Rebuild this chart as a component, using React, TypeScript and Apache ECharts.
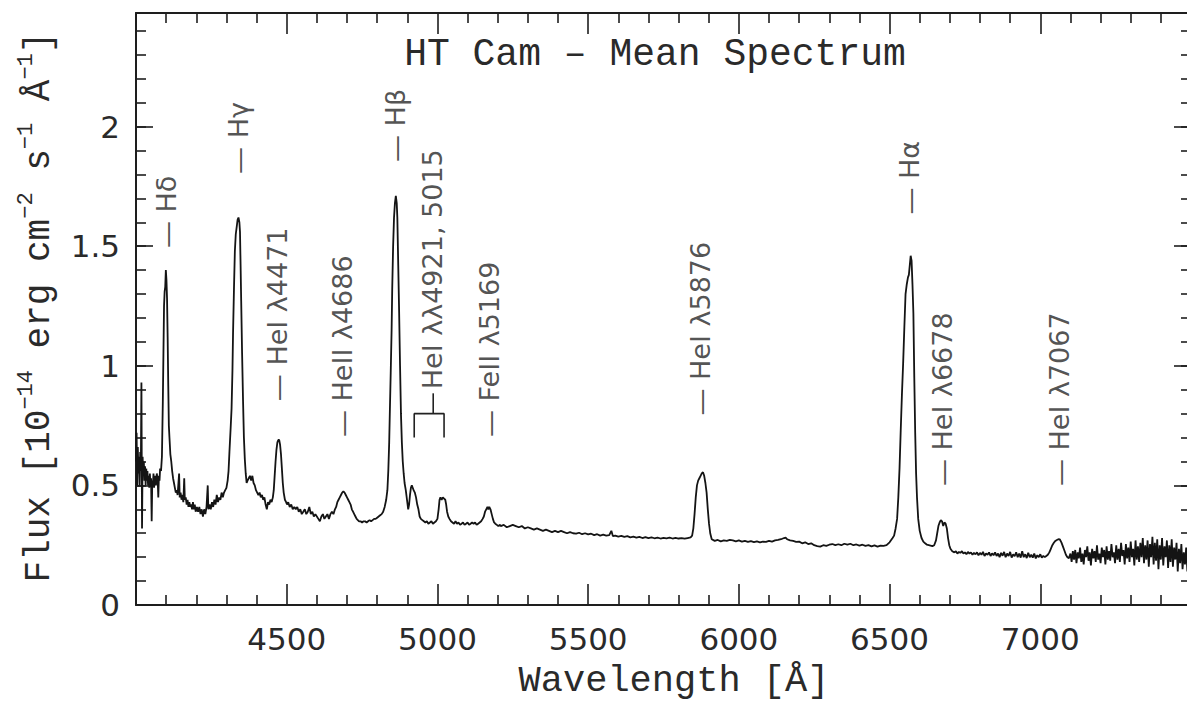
import React, { useEffect, useRef } from "react";
import * as echarts from "echarts";

// ---- Spectrum (wavelength in Å, flux in 1e-14 erg cm^-2 s^-1 Å^-1) ----
const blueEdge: number[][] = [
  [4000, 0.6], [4002, 0.72], [4004, 0.5], [4006, 0.66], [4008, 0.55], [4010, 0.62], [4012, 0.5],
  [4014, 0.64], [4016, 0.56], [4018, 0.93], [4020, 0.32], [4022, 0.62], [4024, 0.55], [4026, 0.6],
  [4028, 0.52], [4030, 0.58], [4032, 0.5], [4034, 0.57], [4036, 0.52], [4038, 0.56], [4040, 0.5],
  [4042, 0.54], [4044, 0.49], [4046, 0.55], [4048, 0.5], [4050, 0.53], [4052, 0.35], [4054, 0.52],
  [4056, 0.5], [4058, 0.55], [4060, 0.49], [4063, 0.54], [4066, 0.5], [4069, 0.55], [4072, 0.52],
  [4074, 0.45], [4076, 0.54], [4078, 0.52], [4080, 0.57], [4083, 0.56],
];
const hDelta: number[][] = [
  [4086, 0.62], [4089, 0.85], [4091, 1.05], [4093, 1.25], [4095, 1.31], [4097, 1.33], [4099, 1.4],
  [4101, 1.36], [4103, 1.28], [4105, 1.12], [4107, 0.92], [4109, 0.75], [4111, 0.7], [4114, 0.63],
  [4117, 0.6], [4120, 0.56], [4123, 0.53], [4126, 0.51], [4129, 0.49], [4132, 0.47], [4135, 0.48],
  [4138, 0.46], [4140, 0.46], [4143, 0.55], [4145, 0.45], [4148, 0.47], [4151, 0.44], [4154, 0.46],
  [4157, 0.43], [4160, 0.53], [4162, 0.44], [4165, 0.45], [4168, 0.42], [4171, 0.44], [4174, 0.41],
  [4177, 0.43], [4180, 0.41], [4183, 0.42], [4186, 0.4], [4189, 0.43], [4192, 0.4], [4195, 0.42],
  [4198, 0.39],
];
const continuum4200: number[][] = [
  [4202, 0.41], [4206, 0.39], [4210, 0.41], [4214, 0.38], [4218, 0.4], [4222, 0.37], [4226, 0.4],
  [4230, 0.38], [4234, 0.41], [4238, 0.5], [4240, 0.4], [4244, 0.42], [4248, 0.4], [4252, 0.43],
  [4256, 0.41], [4260, 0.44], [4264, 0.42], [4268, 0.46], [4272, 0.43], [4276, 0.45], [4280, 0.44],
  [4284, 0.47], [4288, 0.45], [4292, 0.47], [4296, 0.48], [4300, 0.49],
];
const hGamma: number[][] = [
  [4304, 0.52], [4307, 0.56], [4310, 0.64], [4314, 0.74], [4317, 0.82], [4320, 0.98], [4322, 1.14],
  [4325, 1.32], [4328, 1.48], [4331, 1.55], [4334, 1.58], [4337, 1.61], [4340, 1.62], [4343, 1.6],
  [4345, 1.56], [4347, 1.42], [4349, 1.27], [4352, 1.05], [4355, 0.86], [4358, 0.7], [4361, 0.61],
  [4364, 0.55], [4367, 0.51], [4370, 0.52], [4374, 0.53], [4378, 0.54], [4382, 0.52], [4386, 0.54],
  [4390, 0.51], [4394, 0.5], [4398, 0.48],
];
const heI4471: number[][] = [
  [4402, 0.47], [4406, 0.46], [4410, 0.47], [4414, 0.45], [4418, 0.46], [4422, 0.44], [4426, 0.45],
  [4430, 0.42], [4434, 0.4], [4438, 0.43], [4442, 0.42], [4446, 0.44], [4450, 0.43], [4454, 0.45],
  [4457, 0.48], [4460, 0.54], [4463, 0.6], [4466, 0.65], [4469, 0.68], [4472, 0.69], [4475, 0.69],
  [4478, 0.67], [4481, 0.63], [4484, 0.57], [4487, 0.51], [4490, 0.47], [4494, 0.44], [4498, 0.43],
  [4501, 0.42], [4505, 0.43], [4510, 0.41], [4515, 0.42], [4520, 0.4], [4525, 0.41], [4530, 0.4],
  [4535, 0.41], [4540, 0.39], [4545, 0.4], [4550, 0.38], [4555, 0.39], [4560, 0.4], [4565, 0.38],
  [4570, 0.39], [4575, 0.41], [4580, 0.38], [4585, 0.39], [4590, 0.37], [4595, 0.38], [4600, 0.37],
  [4605, 0.36], [4610, 0.35], [4615, 0.37], [4620, 0.38], [4625, 0.36], [4630, 0.37], [4635, 0.38],
  [4640, 0.36], [4645, 0.38], [4650, 0.39], [4655, 0.38], [4660, 0.4],
];
const heII4686: number[][] = [
  [4664, 0.41], [4668, 0.43], [4672, 0.44], [4676, 0.45], [4680, 0.46], [4684, 0.47], [4688, 0.475],
  [4692, 0.47], [4696, 0.46], [4700, 0.45], [4704, 0.44], [4708, 0.43], [4712, 0.42], [4716, 0.4],
  [4720, 0.39], [4724, 0.38], [4728, 0.37], [4732, 0.36], [4736, 0.355], [4740, 0.35], [4745, 0.35],
  [4750, 0.345], [4755, 0.35], [4760, 0.35], [4765, 0.345], [4770, 0.35], [4775, 0.355], [4780, 0.35],
  [4785, 0.355], [4790, 0.36], [4795, 0.36], [4800, 0.365], [4805, 0.37], [4810, 0.375], [4815, 0.38],
  [4820, 0.39], [4825, 0.41], [4830, 0.44],
];
const hBeta: number[][] = [
  [4834, 0.48], [4837, 0.56], [4840, 0.68], [4842, 0.8], [4845, 0.97], [4848, 1.15], [4850, 1.32],
  [4853, 1.5], [4856, 1.62], [4859, 1.68], [4862, 1.71], [4865, 1.68], [4867, 1.62], [4870, 1.42],
  [4873, 1.22], [4876, 1.0], [4879, 0.8], [4882, 0.68], [4885, 0.6], [4888, 0.55], [4891, 0.51],
  [4895, 0.48], [4899, 0.44], [4903, 0.4],
];
const heI4921and5015: number[][] = [
  [4906, 0.42], [4909, 0.46], [4912, 0.49], [4915, 0.5], [4918, 0.49], [4921, 0.48], [4925, 0.47],
  [4929, 0.45], [4933, 0.42], [4937, 0.4], [4941, 0.37], [4945, 0.36], [4950, 0.355], [4955, 0.35],
  [4960, 0.345], [4965, 0.35], [4970, 0.34], [4975, 0.345], [4980, 0.35], [4985, 0.34], [4990, 0.345],
  [4995, 0.35], [5000, 0.36], [5004, 0.4], [5007, 0.44], [5010, 0.45], [5014, 0.44], [5018, 0.45],
  [5022, 0.445], [5026, 0.44], [5029, 0.42], [5032, 0.39], [5036, 0.37], [5040, 0.36], [5045, 0.35],
  [5050, 0.345], [5055, 0.34], [5060, 0.35], [5065, 0.34], [5070, 0.345], [5075, 0.335], [5080, 0.34],
  [5085, 0.345], [5090, 0.335], [5095, 0.34], [5100, 0.345], [5105, 0.335], [5110, 0.34], [5115, 0.345],
  [5120, 0.34], [5125, 0.345], [5130, 0.335], [5135, 0.34], [5140, 0.345], [5145, 0.35], [5150, 0.36],
];
const feII5169: number[][] = [
  [5154, 0.37], [5158, 0.39], [5162, 0.4], [5166, 0.41], [5169, 0.4], [5172, 0.41], [5176, 0.4],
  [5180, 0.38], [5184, 0.36], [5188, 0.345], [5192, 0.34], [5197, 0.335], [5202, 0.33], [5208, 0.335],
];
const continuumGreen: number[][] = [
  [5210, 0.33], [5220, 0.335], [5230, 0.325], [5240, 0.33], [5250, 0.335], [5260, 0.33], [5270, 0.325],
  [5280, 0.33], [5290, 0.32], [5300, 0.325], [5310, 0.32], [5320, 0.315], [5330, 0.32], [5340, 0.315],
  [5350, 0.31], [5360, 0.315], [5370, 0.31], [5380, 0.305], [5390, 0.31], [5400, 0.305], [5410, 0.31],
  [5420, 0.305], [5430, 0.3], [5440, 0.305], [5450, 0.3], [5460, 0.298], [5470, 0.302], [5480, 0.296],
  [5490, 0.3], [5500, 0.295], [5510, 0.298], [5520, 0.292], [5530, 0.296], [5540, 0.29], [5550, 0.294],
  [5560, 0.29], [5570, 0.292], [5577, 0.31], [5582, 0.288], [5590, 0.29], [5600, 0.286], [5610, 0.289],
  [5620, 0.285], [5630, 0.288], [5640, 0.283], [5650, 0.286], [5660, 0.282], [5670, 0.285], [5680, 0.28],
  [5690, 0.284], [5700, 0.28], [5710, 0.283], [5720, 0.279], [5730, 0.282], [5740, 0.278], [5750, 0.281],
  [5760, 0.279], [5770, 0.282], [5780, 0.278], [5790, 0.281], [5800, 0.278], [5810, 0.28], [5820, 0.277],
  [5830, 0.28], [5840, 0.283],
];
const heI5876: number[][] = [
  [5845, 0.29], [5849, 0.32], [5853, 0.38], [5857, 0.45], [5861, 0.5], [5865, 0.52], [5869, 0.53],
  [5873, 0.54], [5877, 0.55], [5881, 0.555], [5885, 0.54], [5889, 0.51], [5893, 0.47], [5897, 0.4],
  [5901, 0.34], [5905, 0.3], [5910, 0.275],
];
const continuumRed: number[][] = [
  [5920, 0.268], [5930, 0.272], [5940, 0.266], [5950, 0.27], [5960, 0.268], [5970, 0.272], [5980, 0.27],
  [5990, 0.266], [6000, 0.27], [6010, 0.265], [6020, 0.268], [6030, 0.264], [6040, 0.267], [6050, 0.263],
  [6060, 0.266], [6070, 0.262], [6080, 0.265], [6090, 0.264], [6100, 0.268], [6110, 0.265], [6120, 0.27],
  [6130, 0.272], [6140, 0.275], [6150, 0.28], [6155, 0.282], [6160, 0.275], [6170, 0.27], [6180, 0.268],
  [6190, 0.264], [6200, 0.265], [6210, 0.258], [6220, 0.262], [6230, 0.255], [6240, 0.258], [6250, 0.25],
  [6260, 0.246], [6270, 0.244], [6280, 0.25], [6290, 0.247], [6300, 0.252], [6310, 0.255], [6320, 0.25],
  [6330, 0.254], [6340, 0.25], [6350, 0.256], [6360, 0.252], [6370, 0.256], [6380, 0.25], [6390, 0.253],
  [6400, 0.248], [6410, 0.252], [6420, 0.247], [6430, 0.25], [6440, 0.245], [6450, 0.249], [6460, 0.244],
  [6470, 0.248], [6480, 0.247], [6490, 0.25], [6500, 0.262], [6510, 0.28],
];
const hAlpha: number[][] = [
  [6515, 0.29], [6520, 0.32], [6525, 0.36], [6529, 0.45], [6533, 0.57], [6537, 0.73], [6541, 0.88],
  [6545, 1.01], [6549, 1.16], [6553, 1.3], [6557, 1.34], [6561, 1.37], [6564, 1.38], [6567, 1.42],
  [6570, 1.46], [6573, 1.44], [6576, 1.34], [6579, 1.22], [6582, 0.95], [6585, 0.72], [6588, 0.55],
  [6591, 0.45], [6595, 0.36], [6600, 0.31], [6606, 0.28], [6612, 0.265], [6618, 0.258], [6624, 0.252],
  [6630, 0.25], [6636, 0.248], [6642, 0.246], [6648, 0.25],
];
const heI6678: number[][] = [
  [6654, 0.27], [6658, 0.3], [6662, 0.33], [6666, 0.345], [6670, 0.355], [6674, 0.35], [6678, 0.33],
  [6682, 0.345], [6686, 0.34], [6690, 0.32], [6694, 0.28], [6698, 0.25], [6702, 0.235], [6708, 0.225],
];
const continuumFarRed: number[][] = [
  [6715, 0.22], [6720, 0.225], [6725, 0.215], [6730, 0.222], [6735, 0.218], [6740, 0.225], [6745, 0.215],
  [6750, 0.22], [6755, 0.212], [6760, 0.222], [6765, 0.215], [6770, 0.22], [6775, 0.21], [6780, 0.218],
  [6785, 0.212], [6790, 0.22], [6795, 0.208], [6800, 0.218], [6805, 0.21], [6810, 0.222], [6815, 0.205],
  [6820, 0.215], [6825, 0.21], [6830, 0.22], [6835, 0.205], [6840, 0.216], [6845, 0.208], [6850, 0.22],
  [6855, 0.205], [6860, 0.215], [6865, 0.2], [6870, 0.218], [6875, 0.206], [6880, 0.222], [6885, 0.2],
  [6890, 0.215], [6895, 0.205], [6900, 0.222], [6905, 0.198], [6910, 0.212], [6915, 0.204], [6920, 0.22],
  [6925, 0.2], [6930, 0.215], [6935, 0.198], [6940, 0.225], [6945, 0.2], [6950, 0.212], [6955, 0.196],
  [6960, 0.218], [6965, 0.2], [6970, 0.21], [6975, 0.198], [6980, 0.215], [6985, 0.195], [6990, 0.208],
  [6995, 0.2], [7000, 0.212], [7005, 0.198], [7010, 0.205], [7015, 0.2], [7020, 0.205], [7025, 0.21],
  [7030, 0.22],
];
const heI7067: number[][] = [
  [7035, 0.235], [7040, 0.25], [7045, 0.26], [7050, 0.268], [7055, 0.272], [7060, 0.275], [7065, 0.274],
  [7070, 0.262], [7075, 0.245], [7080, 0.228], [7085, 0.21], [7090, 0.2], [7095, 0.196],
];
const redEdge: number[][] = [
  [7100, 0.215], [7104, 0.18], [7108, 0.225], [7112, 0.19], [7116, 0.23], [7120, 0.175], [7124, 0.22],
  [7128, 0.195], [7132, 0.24], [7136, 0.18], [7140, 0.215], [7144, 0.17], [7148, 0.23], [7152, 0.2],
  [7156, 0.245], [7160, 0.185], [7164, 0.22], [7168, 0.165], [7172, 0.235], [7176, 0.195], [7180, 0.225],
  [7184, 0.18], [7188, 0.25], [7192, 0.19], [7196, 0.215], [7200, 0.175], [7204, 0.24], [7208, 0.2],
  [7212, 0.23], [7216, 0.17], [7220, 0.245], [7224, 0.19], [7228, 0.225], [7232, 0.185], [7236, 0.255],
  [7240, 0.2], [7244, 0.22], [7248, 0.175], [7252, 0.25], [7256, 0.19], [7260, 0.235], [7264, 0.18],
  [7268, 0.26], [7272, 0.205], [7276, 0.23], [7280, 0.17], [7284, 0.255], [7288, 0.195], [7292, 0.24],
  [7296, 0.18], [7300, 0.265], [7304, 0.2], [7308, 0.235], [7312, 0.165], [7316, 0.27], [7320, 0.19],
  [7324, 0.245], [7328, 0.18], [7332, 0.26], [7336, 0.2], [7340, 0.28], [7344, 0.175], [7348, 0.25],
  [7352, 0.19], [7356, 0.27], [7360, 0.16], [7364, 0.255], [7368, 0.2], [7372, 0.285], [7376, 0.17],
  [7380, 0.26], [7384, 0.185], [7388, 0.275], [7392, 0.15], [7396, 0.25], [7400, 0.19], [7404, 0.28],
  [7408, 0.165], [7412, 0.245], [7416, 0.2], [7420, 0.27], [7424, 0.155], [7428, 0.25], [7432, 0.18],
  [7436, 0.275], [7440, 0.16], [7444, 0.24], [7448, 0.19], [7452, 0.26], [7456, 0.14], [7460, 0.235],
  [7464, 0.175], [7468, 0.255], [7472, 0.15], [7476, 0.22], [7480, 0.17], [7484, 0.24], [7488, 0.14],
  [7492, 0.2], [7496, 0.16], [7500, 0.18],
];

// ---- Line identifications: wavelength of the marker and flux where the marker starts ----
const lineIds = ["— Hδ", "— Hγ", "— HeI λ4471", "— HeII λ4686", "— Hβ", "HeI λλ4921, 5015", "— FeII λ5169", "— HeI λ5876", "— Hα", "— HeI λ6678", "— HeI λ7067"];
const lineIdWavelengths = [4103, 4343, 4472, 4688, 4864, 4986, 5174, 5876, 6567, 6678, 7065];
const lineIdFlux = [1.49, 1.8, 0.85, 0.7, 1.85, 0.9, 0.7, 0.79, 1.63, 0.495, 0.495];

// bracket joining HeI 4921 and 5015
const bracketLegs: number[][] = [[4923, 0.7], [4923, 0.8], [5022, 0.8], [5022, 0.7]];
const bracketStem: number[][] = [[4986, 0.8], [4986, 0.885]];

// ---- Axes ----
const xTickLabels = [4500, 5000, 5500, 6000, 6500, 7000];
const yTickLabels = [0, 0.5, 1, 1.5, 2];
const xRange = [4000, 7500];
const yRange = [0, 2.475];

const AXIS = "#1e1e1e";
const MONO = "'Liberation Mono', 'DejaVu Sans Mono', monospace";
const SANS = "'DejaVu Sans', 'Noto Sans', sans-serif";

function xAxisCfg(pos: "bottom" | "top", labels: boolean) {
  return {
    type: "value",
    position: pos,
    min: xRange[0],
    max: xRange[1],
    interval: 500,
    axisLine: { show: true, onZero: false, lineStyle: { color: AXIS, width: 2 } },
    axisTick: { show: true, inside: true, length: 21, lineStyle: { color: AXIS, width: 1.6 } },
    minorTick: { show: true, splitNumber: 5, length: 10, lineStyle: { color: AXIS, width: 1.6 } },
    splitLine: { show: false },
    minorSplitLine: { show: false },
    axisLabel: {
      show: labels,
      margin: 18,
      fontFamily: SANS,
      fontSize: 31,
      color: "#2a2a2a",
      formatter: (v: number) => (xTickLabels.some((t) => Math.abs(t - v) < 1e-6) ? String(v) : ""),
    },
  };
}

function yAxisCfg(pos: "left" | "right", interval: number, tickLen: number, line: boolean, labels: boolean) {
  return {
    type: "value",
    position: pos,
    min: yRange[0],
    max: yRange[1],
    interval,
    axisLine: { show: line, onZero: false, lineStyle: { color: AXIS, width: 2 } },
    axisTick: { show: true, inside: true, length: tickLen, lineStyle: { color: AXIS, width: 1.6 } },
    splitLine: { show: false },
    axisLabel: {
      show: labels,
      margin: 16,
      fontFamily: SANS,
      fontSize: 31,
      color: "#2a2a2a",
      formatter: (v: number) => (yTickLabels.some((t) => Math.abs(t - v) < 1e-6) ? String(v) : ""),
    },
  };
}

export default function App() {
  const ref = useRef<HTMLDivElement>(null);

  useEffect(() => {
    if (!ref.current) return;
    const chart = echarts.init(ref.current, null, { renderer: "svg" });
    const spectrum = [
      ...blueEdge, ...hDelta, ...continuum4200, ...hGamma, ...heI4471, ...heII4686, ...hBeta,
      ...heI4921and5015, ...feII5169, ...continuumGreen, ...heI5876, ...continuumRed, ...hAlpha,
      ...heI6678, ...continuumFarRed, ...heI7067, ...redEdge,
    ];
    const labelData = lineIds.map((t, i) => ({ name: t, value: [lineIdWavelengths[i], lineIdFlux[i]] }));

    chart.setOption({
      animation: false,
      backgroundColor: "#ffffff",
      grid: { left: 136, right: 9, top: 13, bottom: 99 },
      xAxis: [xAxisCfg("bottom", true), xAxisCfg("top", false)],
      yAxis: [
        yAxisCfg("left", 0.5, 17, true, true),
        yAxisCfg("left", 0.1, 10, false, false),
        yAxisCfg("right", 0.5, 17, true, false),
        yAxisCfg("right", 0.1, 10, false, false),
      ],
      graphic: [
        {
          type: "text",
          x: 655,
          y: 54,
          style: { text: "HT Cam – Mean Spectrum", font: `38px ${MONO}`, fill: "#2a2a2a", align: "center", verticalAlign: "middle" },
        },
        {
          type: "text",
          x: 674,
          y: 681,
          style: { text: "Wavelength [Å]", font: `37px ${MONO}`, fill: "#2a2a2a", align: "center", verticalAlign: "middle" },
        },
        {
          type: "text",
          x: 36,
          y: 307,
          rotation: Math.PI / 2,
          style: {
            text: "{m|Flux [10}{s|−14}{m| erg cm}{s|−2}{m| s}{s|−1}{m| Å}{s|−1}{m|]}",
            align: "center",
            verticalAlign: "middle",
            fill: "#2a2a2a",
            rich: {
              m: { fontFamily: MONO, fontSize: 36, lineHeight: 42, verticalAlign: "bottom", fill: "#2a2a2a" },
              s: { fontFamily: MONO, fontSize: 22, lineHeight: 24, verticalAlign: "top", fill: "#2a2a2a" },
            },
          },
        },
      ],
      series: [
        {
          type: "line",
          name: "HT Cam mean spectrum",
          xAxisIndex: 0,
          yAxisIndex: 0,
          data: spectrum,
          showSymbol: false,
          symbol: "none",
          lineStyle: { color: "#141414", width: 1.8 },
          silent: true,
          z: 3,
        },
        {
          type: "line",
          xAxisIndex: 0,
          yAxisIndex: 0,
          data: bracketLegs,
          symbol: "none",
          lineStyle: { color: "#222", width: 1.6 },
          silent: true,
        },
        {
          type: "line",
          xAxisIndex: 0,
          yAxisIndex: 0,
          data: bracketStem,
          symbol: "none",
          lineStyle: { color: "#222", width: 1.6 },
          silent: true,
        },
        {
          type: "scatter",
          xAxisIndex: 0,
          yAxisIndex: 0,
          data: labelData,
          symbolSize: 1,
          itemStyle: { color: "rgba(0,0,0,0)" },
          silent: true,
          label: {
            show: true,
            formatter: "{b}",
            position: [0, 0],
            rotate: 90,
            align: "left",
            verticalAlign: "middle",
            fontFamily: SANS,
            fontSize: 27,
            color: "#262626",
          },
        },
      ],
    });
    return () => chart.dispose();
  }, []);

  return (
    <div
      ref={ref}
      style={{ position: "fixed", left: 0, top: 0, width: 1200, height: 704, background: "#fff" }}
    />
  );
}
